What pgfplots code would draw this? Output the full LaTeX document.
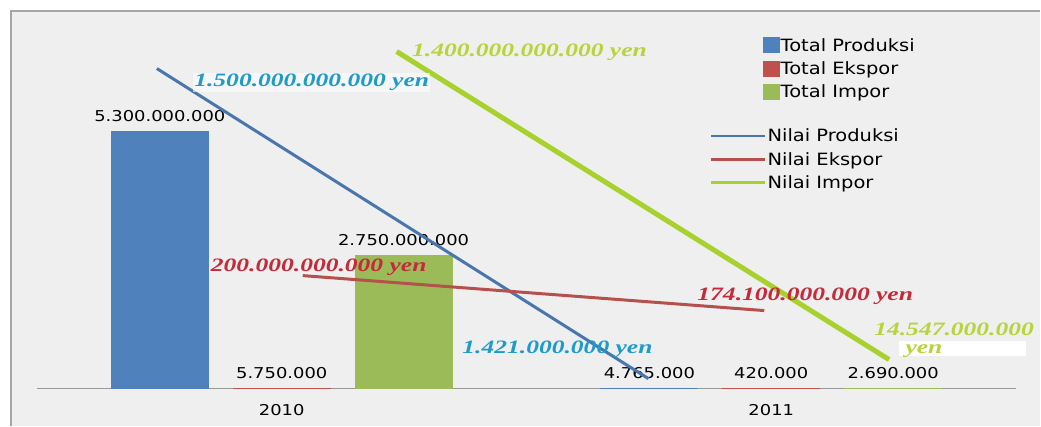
\documentclass[border=0pt]{standalone}
\usepackage{pgfplots}
\pgfplotsset{compat=1.18}
\usepackage{fontspec}
\setmainfont{DejaVu Sans}
\newfontfamily\lblfont[FakeStretch=1.2]{DejaVu Sans}
\newfontfamily\legfont[FakeStretch=1.15]{DejaVu Sans}
\newfontfamily\yenfont[FakeStretch=1.35]{Liberation Serif}
\definecolor{cblue}{HTML}{4F81BD}
\definecolor{cred}{HTML}{C0504D}
\definecolor{cgreen}{HTML}{9BBB59}
\definecolor{lblue}{HTML}{4A76AE}
\definecolor{lred}{HTML}{B5504C}
\definecolor{lgreen}{HTML}{A8D12E}
\definecolor{tcyan}{HTML}{1E9BC8}
\definecolor{tred}{HTML}{C42A3A}
\definecolor{tgreen}{HTML}{B7D43A}
\definecolor{bg}{HTML}{EFEFEF}
\newcommand\yen[1]{{\yenfont\bfseries\itshape\fontsize{19}{22}\selectfont #1}}
\begin{document}
\begin{tikzpicture}
\fill[white] (0bp,0bp) rectangle (1041bp,426bp);
\fill[bg] (10bp,0bp) rectangle (1041bp,416bp);
\draw[black!35, line width=2bp] (11bp,0bp) -- (11bp,415bp) -- (1041bp,415bp);
\path[use as bounding box] (0bp,0bp) rectangle (1041bp,426bp);
\begin{axis}[
  at={(37bp,37bp)}, anchor=south west,
  width=980bp, height=369bp, scale only axis,
  xmin=-0.5, xmax=1.5, ymin=0, ymax=7.6,
  axis y line=none, axis x line=bottom,
  x axis line style={black!40, line width=1.5bp, -},
  xtick={0,1}, xticklabels={2010,2011},
  major tick length=0pt,
  xticklabel style={font=\lblfont\fontsize{15}{18}\selectfont, yshift=-12bp},
  ybar=25bp, bar width=97bp,
  nodes near coords, point meta=explicit symbolic,
  every node near coord/.append style={font=\lblfont\fontsize{15}{18}\selectfont, black, yshift=6bp},
  clip=false,
  legend cell align=left,
  legend style={draw=none, fill=none, at={(0.738,0.962)}, anchor=north west,
    font=\legfont\fontsize{17}{20}\selectfont, row sep=5bp,
    /tikz/every even column/.append style={column sep=0pt},
    nodes={inner xsep=1bp}},
  legend image code/.code={\fill[#1] (0bp,-7.5bp) rectangle (16bp,7.5bp);},
]
\addplot[fill=cblue, draw=cblue, line width=1bp] coordinates {(0,5.3) [5.300.000.000] (1,0.004765) [4.765.000]};
\addplot[fill=cred, draw=cred, line width=1bp] coordinates {(0,0.00575) [5.750.000] (1,0.00042) [420.000]};
\addplot[fill=cgreen, draw=cgreen, line width=1bp] coordinates {(0,2.75) [2.750.000.000] (1,0.00269) [2.690.000]};
\legend{Total Produksi, Total Ekspor, Total Impor}
\end{axis}
\begin{axis}[
  at={(37bp,37bp)}, anchor=south west,
  width=980bp, height=369bp, scale only axis,
  xmin=-0.5, xmax=1.5, ymin=0, ymax=7.6,
  hide axis, clip=false,
  legend cell align=left,
  legend style={draw=none, fill=none, at={(0.684,0.716)}, anchor=north west,
    font=\legfont\fontsize{17}{20}\selectfont, row sep=5bp,
    /tikz/every even column/.append style={column sep=0pt},
    nodes={inner xsep=1bp}},
  legend image code/.code={\draw[#1, line width=2.8bp] (0bp,0bp) -- (54bp,0bp);},
]
\addplot[lblue, line width=3bp, no marks] coordinates {(-0.2551,6.599) (0.749,0.206)};
\addplot[lred, line width=3bp, no marks] coordinates {(0.0429,2.330) (0.9857,1.609)};
\addplot[lgreen, line width=5bp, no marks] coordinates {(0.2347,6.950) (1.2408,0.598)};
\legend{Nilai Produksi, Nilai Ekspor, Nilai Impor}
\node[text=tcyan, fill=white, fill opacity=0.55, text opacity=1, inner sep=1bp] at (axis cs:0.0612,6.311) {\yen{1.500.000.000.000 yen}};
\node[text=tgreen, inner sep=0pt] at (axis cs:0.5061,6.929) {\yen{1.400.000.000.000 yen}};
\node[text=tred, inner sep=0pt] at (axis cs:0.0755,2.495) {\yen{200.000.000.000 yen}};
\node[text=tred, inner sep=0pt] at (axis cs:1.0694,1.897) {\yen{174.100.000.000 yen}};
\node[text=tcyan, inner sep=0pt] at (axis cs:0.5633,0.804) {\yen{1.421.000.000 yen}};
\node[text=tgreen, inner sep=0pt] at (axis cs:1.3735,1.217) {\yen{14.547.000.000}};
\fill[white] (axis cs:1.261,0.68) rectangle (axis cs:1.520,0.99);
\node[text=tgreen, inner sep=0pt] at (axis cs:1.312,0.784) {\yen{yen}};
\end{axis}
\end{tikzpicture}
\end{document}
